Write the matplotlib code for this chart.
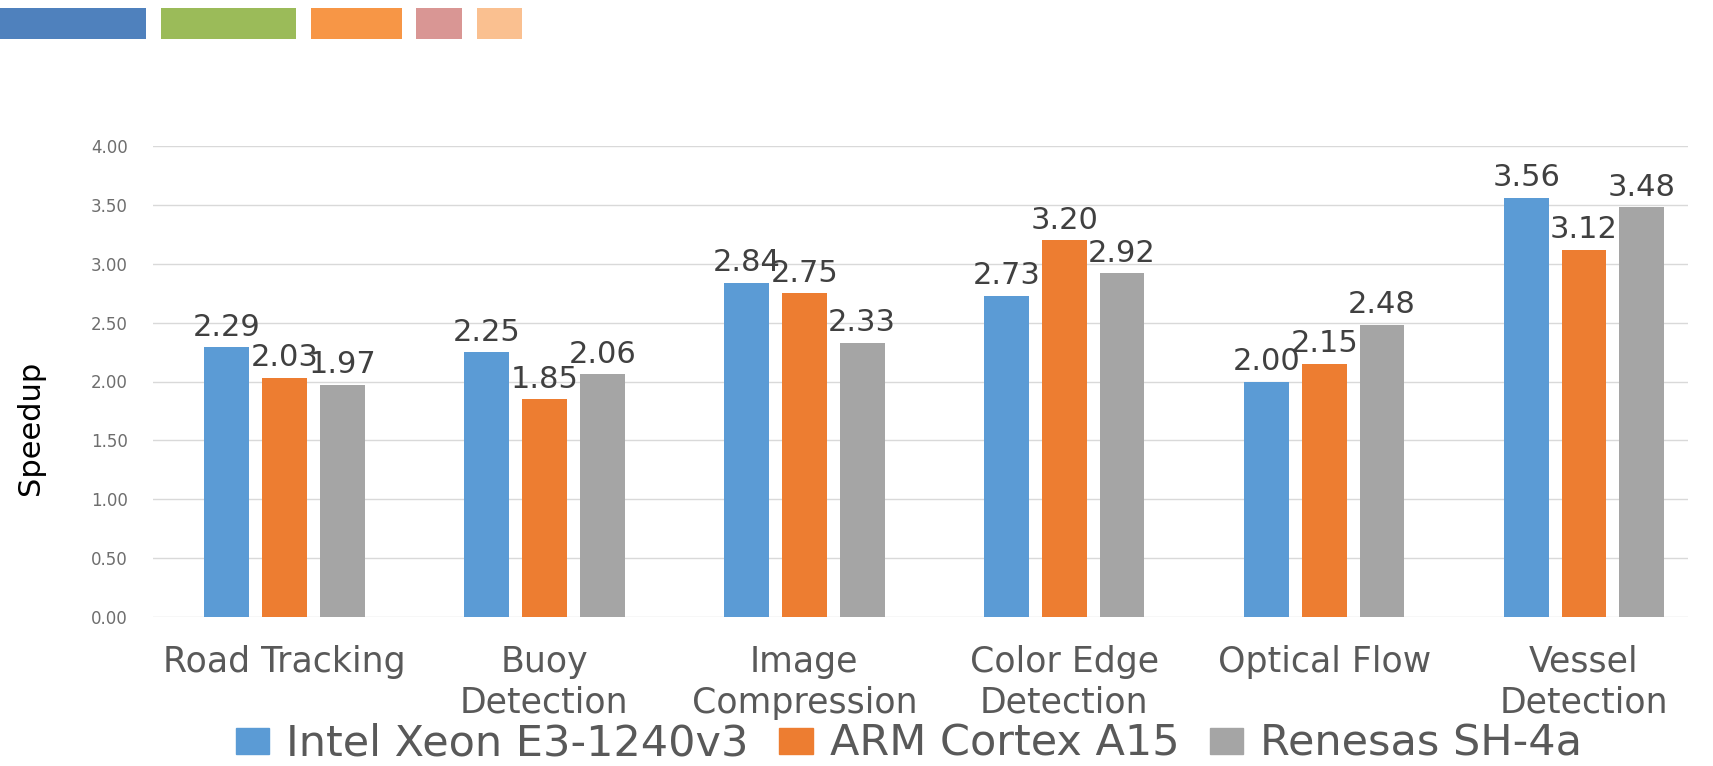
import matplotlib
matplotlib.use("Agg")
import matplotlib.pyplot as plt
import numpy as np
from matplotlib.patches import Rectangle, Patch

# data
categories = ["Road Tracking", "Buoy\nDetection", "Image\nCompression",
              "Color Edge\nDetection", "Optical Flow", "Vessel\nDetection"]
series_names = ["Intel Xeon E3-1240v3", "ARM Cortex A15", "Renesas SH-4a"]
intel = [2.29, 2.25, 2.84, 2.73, 2.00, 3.56]
arm = [2.03, 1.85, 2.75, 3.20, 2.15, 3.12]
renesas = [1.97, 2.06, 2.33, 2.92, 2.48, 3.48]
bar_colors = ["#5B9BD5", "#ED7D31", "#A5A5A5"]
yticks = [0, 0.5, 1.0, 1.5, 2.0, 2.5, 3.0, 3.5, 4.0]

# the coloured strips at the top left of the slide
strip_colors = ["#4F81BD", "#9BBB59", "#F79646", "#D99694", "#FAC090"]

W, H = 1713, 766
fig = plt.figure(figsize=(W / 100, H / 100), dpi=100)
plt.rcParams['font.family'] = ['DejaVu Sans']

# strips (pixel boxes, x0, x1)
strip_px = [(0, 146), (161, 296), (311, 402), (416, 462), (477, 522)]
for (x0, x1), c in zip(strip_px, strip_colors):
    fig.add_artist(Rectangle((x0 / W, 1 - 39 / H), (x1 - x0) / W, 31 / H,
                             transform=fig.transFigure, color=c, lw=0))

ax = fig.add_axes([153 / W, 1 - 617 / H, (1688 - 153) / W, (617 - 146) / H])

x = np.arange(len(categories))
width = 0.1726
offset = 0.2225
all_series = [intel, arm, renesas]
for i, (vals, col, name) in enumerate(zip(all_series, bar_colors, series_names)):
    bars = ax.bar(x + (i - 1) * offset, vals, width, color=col, label=name, zorder=2)
    ax.bar_label(bars, fmt="%.2f", padding=4, fontsize=22, color="#404040")

ax.set_ylim(0, 4)
ax.set_xlim(-0.506, 5.40)
ax.set_yticks(yticks)
ax.set_yticklabels([f"{v:.2f}" for v in yticks], fontsize=12, color="#6E6E6E")
ax.set_xticks(x)
ax.set_xticklabels(categories, fontsize=25, color="#595959", linespacing=1.25)
ax.tick_params(axis="both", length=0)
ax.tick_params(axis="y", pad=18)
ax.tick_params(axis="x", pad=20)
ax.grid(axis="y", color="#D9D9D9", lw=1, zorder=0)
for s in ax.spines.values():
    s.set_visible(False)

ax.set_ylabel("Speedup", fontsize=22, color="black")
ax.yaxis.set_label_coords(-0.0704, 0.401)

handles = [Patch(color=c) for c in bar_colors]
fig.legend(handles, series_names, loc="center", bbox_to_anchor=(909 / W, 1 - 744 / H),
           ncol=3, frameon=False, fontsize=31, labelcolor="#595959",
           handlelength=0.78, handleheight=0.56, handletextpad=0.4,
           columnspacing=0.7, borderpad=0, borderaxespad=0)

fig.savefig("out.png", dpi=100)
